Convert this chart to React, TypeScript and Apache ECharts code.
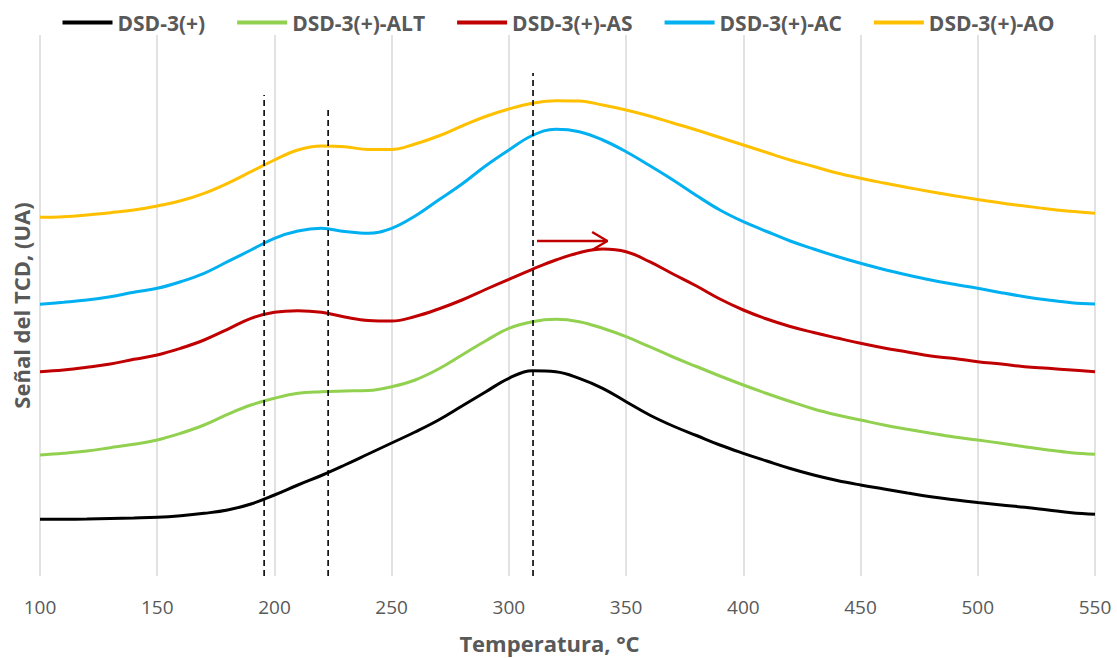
import React, { useEffect, useRef } from "react";
import * as echarts from "echarts";

// Temperature (°C), every 10 °C from 100 to 550
const temps = [
  100, 110, 120, 130, 140, 150, 160, 170, 180, 190,
  200, 210, 220, 230, 240, 250, 260, 270, 280, 290,
  300, 310, 320, 330, 340, 350, 360, 370, 380, 390,
  400, 410, 420, 430, 440, 450, 460, 470, 480, 490,
  500, 510, 520, 530, 540, 550,
];

// TCD signal (arbitrary units, stacked offsets as in the picture)
const dsd3 = [
  56.7, 56.8, 57, 57.5, 58, 58.7, 60.3, 62.7, 66, 72,
  81, 91, 100.5, 111, 122, 133, 144, 156, 170, 184,
  197.7, 205.3, 204.3, 197.7, 187.7, 174.3, 161, 150, 140.5, 131,
  122.7, 115, 107.5, 101, 95.5, 91, 87, 83, 79.3, 76.3,
  73.5, 71, 68.7, 66, 63.3, 61.7,
];
const dsd3Alt = [
  121, 122.7, 125, 128.3, 131.7, 136, 142.7, 151, 161.7, 171,
  177.7, 182.7, 184.3, 185, 185.5, 189.3, 196, 207, 221, 235,
  247.7, 254.3, 256.7, 254.3, 247.7, 239.3, 229.3, 219, 209.5, 200,
  191, 182.5, 174.5, 167, 161, 156, 151, 146.7, 142.7, 139,
  136, 132.7, 129.3, 126, 123.3, 121.7,
];
const dsd3As = [
  204.3, 206, 208.7, 212, 216.7, 221, 227.7, 236, 246.7, 257.7,
  263.7, 265.3, 263.7, 259, 255.5, 255, 259.5, 267, 276, 286.5,
  296.7, 306.7, 316, 323.3, 327, 324.3, 314.3, 302, 290, 277,
  266, 257, 249.5, 243.5, 238, 232.7, 228, 224, 220, 217.5,
  214.3, 212, 209.3, 207.7, 206, 204.3,
];
const dsd3Ac = [
  271.7, 273.7, 276, 279.3, 283.7, 287.7, 294.3, 302.7, 314.3, 326,
  337.7, 345, 347.7, 344.5, 342.7, 347.7, 360, 376, 392, 410,
  426, 440.5, 446.7, 444.3, 436, 424.3, 410.5, 396, 380.5, 366,
  354.3, 344.5, 335, 327, 319.5, 312.7, 306.5, 301, 296, 291.7,
  287.7, 283.3, 279.3, 276, 273.3, 272,
];
const dsd3Ao = [
  358.7, 359.3, 361, 363.3, 366, 370, 375.3, 382.7, 392.7, 404.3,
  416, 426, 430, 429.3, 426.5, 426.5, 432, 440, 450, 459.5,
  467, 472.7, 475.3, 475, 471, 466, 460, 453, 446, 438.5,
  431, 423.5, 416, 409.5, 403, 397.7, 393, 388.5, 384.3, 380.3,
  376.5, 373, 370, 367, 364.7, 362.7,
];

const seriesNames = ["DSD-3(+)", "DSD-3(+)-ALT", "DSD-3(+)-AS", "DSD-3(+)-AC", "DSD-3(+)-AO"];
const seriesColors = ["#000000", "#92d050", "#c00000", "#00b0f0", "#ffc000"];

// Dashed reference lines: temperature and top of line
const dashT = [195.6, 222.9, 310.3];
const dashTop = [481, 468, 503];

// Arrow (shift of the AS peak)
const arrowShaft = [[312, 335], [342, 335]];
const arrowHead = [[335.5, 344], [342, 335], [335.5, 326]];

const xTicks = { min: 100, max: 550, interval: 50 };
const yRange = { min: 0, max: 541 };

const zip = (t: number[], v: number[]) => t.map((x, i) => [x, v[i]]);

export default function App() {
  const ref = useRef<HTMLDivElement>(null);
  useEffect(() => {
    if (!ref.current) return;
    const chart = echarts.init(ref.current, undefined, { renderer: "svg" });
    const values = [dsd3, dsd3Alt, dsd3As, dsd3Ac, dsd3Ao];
    const font = "'Open Sans', 'Noto Sans', sans-serif";
    const mainSeries = seriesNames.map((name, i) => ({
      name,
      type: "line",
      data: zip(temps, values[i]),
      smooth: 0.4,
      symbol: "none",
      lineStyle: { color: seriesColors[i], width: 3 },
      itemStyle: { color: seriesColors[i] },
      z: 3,
    }));
    const dashSeries = dashT.map((t, i) => ({
      name: "dash" + i,
      type: "line",
      data: [[t, 0], [t, dashTop[i]]],
      symbol: "none",
      lineStyle: { color: "#000", width: 1.6, type: [6, 4] },
      z: 4,
    }));
    const arrowSeries = [
      { name: "arrow1", type: "line", data: arrowShaft, symbol: "none", lineStyle: { color: "#c00000", width: 2.5 }, z: 5 },
      { name: "arrow2", type: "line", data: arrowHead, symbol: "none", lineStyle: { color: "#c00000", width: 2.5 }, z: 5 },
    ];
    chart.setOption({
      animation: false,
      textStyle: { fontFamily: font },
      grid: { left: 40, right: 22, top: 35, bottom: 82, containLabel: false, outerBoundsMode: "none" },
      legend: {
        data: seriesNames.map((n) => ({ name: n, icon: "rect" })),
        top: 7,
        left: "center",
        itemWidth: 50,
        itemHeight: 4,
        itemGap: 32,
        textStyle: { fontSize: 21, fontWeight: "bold", color: "#595959", fontFamily: font },
      },
      xAxis: {
        type: "value",
        min: xTicks.min,
        max: xTicks.max,
        interval: xTicks.interval,
        axisLine: { show: false },
        axisTick: { show: false },
        axisLabel: { fontSize: 19, color: "#595959", margin: 21 },
        splitLine: { show: true, lineStyle: { color: "#d9d9d9", width: 1.5 } },
        name: "Temperatura, °C",
        nameLocation: "middle",
        nameGap: 56,
        nameTextStyle: { fontSize: 22, fontWeight: "bold", color: "#595959", padding: [0, 36, 0, 0] },
      },
      yAxis: {
        type: "value",
        min: yRange.min,
        max: yRange.max,
        axisLine: { show: false },
        axisTick: { show: false },
        axisLabel: { show: false },
        splitLine: { show: false },
        name: "Señal del TCD, (UA)",
        nameLocation: "middle",
        nameGap: 8,
        nameTextStyle: { fontSize: 22, fontWeight: "bold", color: "#595959" },
      },
      series: [...mainSeries, ...dashSeries, ...arrowSeries],
    });
    return () => chart.dispose();
  }, []);
  return <div ref={ref} style={{ width: 1117, height: 658, position: "absolute", left: 0, top: 0, background: "#fff" }} />;
}
